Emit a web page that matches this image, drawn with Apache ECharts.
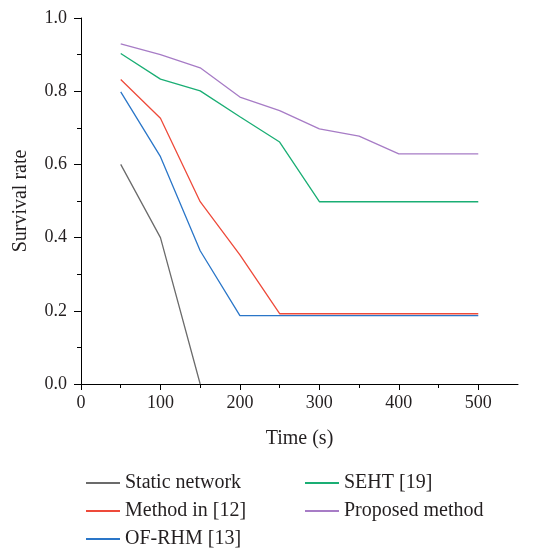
<!DOCTYPE html>
<html>
<head>
<meta charset="utf-8">
<script src="https://cdn.jsdelivr.net/npm/echarts@6/dist/echarts.min.js"></script>
<style>
  html, body { margin: 0; padding: 0; background: #fff; }
  #chart { width: 541px; height: 549px; }
</style>
</head>
<body>
<div id="chart"></div>
<script>
// Survival rate over time for five approaches
const times = [50, 100, 150, 200, 250, 300, 350, 400, 450, 500];
const staticNetwork = [0.60, 0.40, 0.0];
const methodIn12 = [0.832, 0.726, 0.498, 0.353, 0.192, 0.192, 0.192, 0.192, 0.192, 0.192];
const ofRhm13 = [0.798, 0.621, 0.364, 0.187, 0.187, 0.187, 0.187, 0.187, 0.187, 0.187];
const seht19 = [0.903, 0.833, 0.801, 0.730, 0.661, 0.498, 0.498, 0.498, 0.498, 0.498];
const proposed = [0.929, 0.900, 0.864, 0.784, 0.747, 0.697, 0.677, 0.629, 0.629, 0.629];

const xTicks = [0, 100, 200, 300, 400, 500];
const xMinorTicks = [50, 150, 250, 350, 450];

const seriesNames = ['Static network', 'Method in [12]', 'OF-RHM [13]', 'SEHT [19]', 'Proposed method'];
const seriesData = [staticNetwork, methodIn12, ofRhm13, seht19, proposed];
const colors = ['#6b6b6b', '#ee4a3a', '#2a76c8', '#1aae74', '#a77cc6'];

const font = 'Liberation Serif';
const textColor = '#231f20';

const chart = echarts.init(document.getElementById('chart'));

const pairs = arr => arr.map((v, i) => [times[i], v]);

const legendBase = {
  orient: 'vertical', top: 468, height: 95,
  icon: 'rect', itemWidth: 34, itemHeight: 2, itemGap: 8,
  textStyle: { fontFamily: font, fontSize: 20, color: textColor }
};

chart.setOption({
  animation: false,
  backgroundColor: '#fff',
  grid: { left: 81, right: 23, top: 18, bottom: 165 },
  xAxis: [
    {
      type: 'value', min: 0, max: 550,
      name: 'Time (s)', nameLocation: 'middle', nameGap: 45,
      nameTextStyle: { fontFamily: font, fontSize: 20, color: textColor },
      axisLine: { lineStyle: { color: '#000', width: 1 } },
      axisTick: { customValues: xTicks, length: 6, lineStyle: { color: '#000' } },
      axisLabel: { customValues: xTicks, margin: 10, fontFamily: font, fontSize: 18, color: textColor },
      splitLine: { show: false }
    },
    {
      type: 'value', min: 0, max: 550, position: 'bottom', offset: 0,
      axisLine: { show: false },
      axisTick: { customValues: xMinorTicks, length: 4, lineStyle: { color: '#000' } },
      axisLabel: { show: false },
      splitLine: { show: false }
    }
  ],
  yAxis: {
    type: 'value', min: 0, max: 1, interval: 0.2,
    name: 'Survival rate', nameLocation: 'middle', nameGap: 50,
    nameTextStyle: { fontFamily: font, fontSize: 20, color: textColor },
    axisLine: { show: true, lineStyle: { color: '#000', width: 1 } },
    axisTick: { show: true, length: 7, lineStyle: { color: '#000' } },
    minorTick: { show: true, splitNumber: 2, length: 4, lineStyle: { color: '#000' } },
    axisLabel: { margin: 14, fontFamily: font, fontSize: 18, color: textColor, formatter: v => v.toFixed(1) },
    splitLine: { show: false }
  },
  legend: [
    Object.assign({}, legendBase, { data: seriesNames.slice(0, 3), left: 81 }),
    Object.assign({}, legendBase, { data: seriesNames.slice(3), left: 300 })
  ],
  series: seriesNames.map((name, i) => ({
    name, type: 'line', data: pairs(seriesData[i]),
    symbol: 'none', color: colors[i],
    lineStyle: { width: 1.3, color: colors[i] }
  }))
});
</script>
</body>
</html>
